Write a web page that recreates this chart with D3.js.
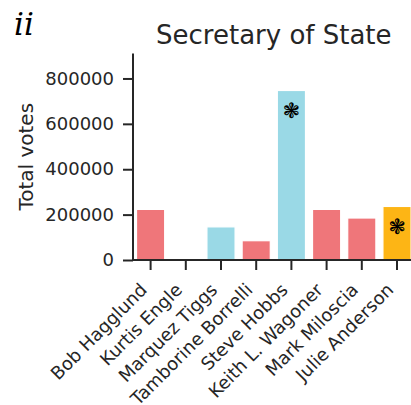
<!DOCTYPE html>
<html>
<head>
<meta charset="utf-8">
<script src="https://cdn.jsdelivr.net/npm/d3@7"></script>
<style>
  html, body { margin: 0; padding: 0; background: #fff; }
  svg { display: block; }
  text { font-family: "DejaVu Sans", sans-serif; fill: #262626; }
</style>
</head>
<body>
<svg id="chart" width="411" height="405"></svg>
<script>
// Candidates in the Secretary of State race, with vote totals and party
const candidates = ["Bob Hagglund", "Kurtis Engle", "Marquez Tiggs", "Tamborine Borrelli",
                    "Steve Hobbs", "Keith L. Wagoner", "Mark Miloscia", "Julie Anderson"];
const votes = [223000, 0, 146000, 85000, 747000, 223000, 185000, 236000];
const parties = ["R", "U", "D", "R", "D", "R", "R", "N"];
// Candidates who advanced to the general election
const advanced = ["Steve Hobbs", "Julie Anderson"];
const yTicks = [0, 200000, 400000, 600000, 800000];
const yMax = 910000;

const partyColor = { R: "#EF767A", D: "#9AD9E6", N: "#FDB515", U: "#B0B0B0" };

const svg = d3.select("#chart");
const plotLeft = 133, plotRight = 414.6, plotTop = 53.5, plotBottom = 260;

const x = d3.scaleBand().domain(candidates).range([plotLeft, plotRight]).paddingInner(0.2).paddingOuter(0.1);
const y = d3.scaleLinear().domain([0, yMax]).range([plotBottom, plotTop]);

// Bars
svg.append("g").selectAll("rect").data(candidates).join("rect")
  .attr("x", d => x(d))
  .attr("width", x.bandwidth())
  .attr("y", (d, i) => y(votes[i]))
  .attr("height", (d, i) => y(0) - y(votes[i]))
  .attr("fill", (d, i) => partyColor[parties[i]])
  .attr("stroke", "#fff")
  .attr("stroke-width", 1.2);

// Markers for candidates who advanced
svg.append("g").selectAll("text").data(candidates.filter(c => advanced.includes(c))).join("text")
  .attr("x", d => x(d) + x.bandwidth() / 2)
  .attr("y", d => y(votes[candidates.indexOf(d)]) + 21)
  .attr("text-anchor", "middle")
  .attr("dominant-baseline", "central")
  .style("font-size", "21px")
  .style("fill", "#000")
  .text("\u2743");

// Y axis
const yAxis = svg.append("g").attr("transform", `translate(${plotLeft},0)`)
  .call(d3.axisLeft(y).tickValues(yTicks).tickFormat(d3.format("d")).tickSize(10).tickPadding(9));
yAxis.select(".domain").attr("d", `M0,${plotTop}V${plotBottom}`);

// X axis with rotated candidate names
const xAxis = svg.append("g").attr("transform", `translate(0,${plotBottom})`)
  .call(d3.axisBottom(x).tickSize(10));
xAxis.select(".domain").attr("d", `M${plotLeft},0H${plotRight}`);
xAxis.selectAll(".tick text")
  .attr("x", 0)
  .attr("y", 0)
  .attr("dy", null)
  .attr("text-anchor", "end")
  .attr("transform", "translate(-2.5,31) rotate(-45)");

svg.selectAll(".domain, .tick line").attr("stroke", "#262626").attr("stroke-width", 2);
svg.selectAll(".tick text").style("font-size", "18px").style("fill", "#262626");

// Axis title
svg.append("text")
  .attr("transform", `translate(33,${(plotTop + plotBottom) / 2}) rotate(-90)`)
  .attr("text-anchor", "middle")
  .style("font-size", "20px")
  .text("Total votes");

// Chart title
svg.append("text")
  .attr("x", (plotLeft + plotRight) / 2)
  .attr("y", 43.5)
  .attr("text-anchor", "middle")
  .style("font-size", "26px")
  .text("Secretary of State");

// Panel label
svg.append("text")
  .attr("x", 14)
  .attr("y", 35)
  .style("font-family", "'DejaVu Serif', serif")
  .style("font-style", "italic")
  .style("font-size", "31px")
  .style("fill", "#000")
  .text("ii");
</script>
</body>
</html>
